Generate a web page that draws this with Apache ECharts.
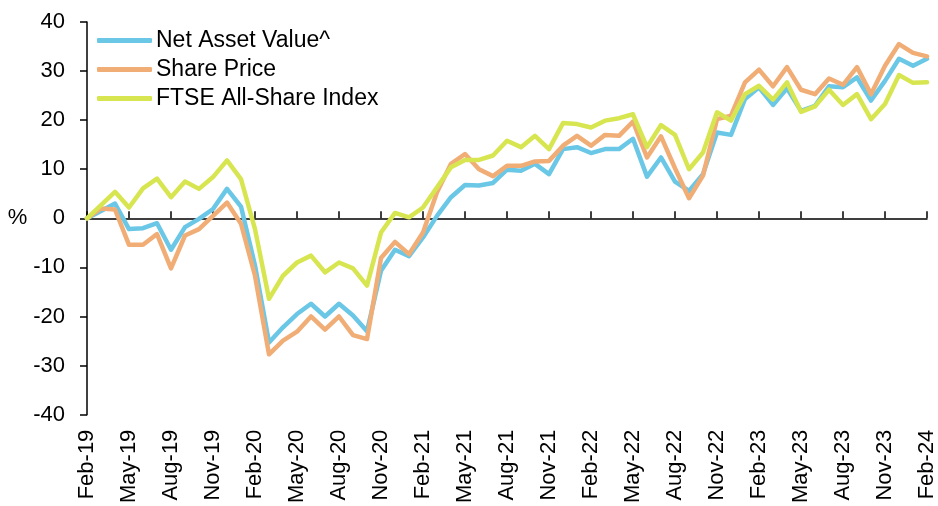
<!DOCTYPE html>
<html>
<head>
<meta charset="utf-8">
<script src="https://cdn.jsdelivr.net/npm/echarts@6/dist/echarts.min.js"></script>
<style>
  html, body { margin: 0; padding: 0; background: #fff; }
  #chart { width: 938px; height: 506px; }
</style>
</head>
<body>
<div id="chart"></div>
<script>
"use strict";

// month labels, Feb-19 .. Feb-24
var months = [
  'Feb-19','Mar-19','Apr-19','May-19','Jun-19','Jul-19','Aug-19','Sep-19','Oct-19','Nov-19','Dec-19','Jan-20',
  'Feb-20','Mar-20','Apr-20','May-20','Jun-20','Jul-20','Aug-20','Sep-20','Oct-20','Nov-20','Dec-20','Jan-21',
  'Feb-21','Mar-21','Apr-21','May-21','Jun-21','Jul-21','Aug-21','Sep-21','Oct-21','Nov-21','Dec-21','Jan-22',
  'Feb-22','Mar-22','Apr-22','May-22','Jun-22','Jul-22','Aug-22','Sep-22','Oct-22','Nov-22','Dec-22','Jan-23',
  'Feb-23','Mar-23','Apr-23','May-23','Jun-23','Jul-23','Aug-23','Sep-23','Oct-23','Nov-23','Dec-23','Jan-24',
  'Feb-24'
];

// % change since Feb-19
var navData = [
  0, 1.5, 3.0, -2.2, -2.0, -1.0, -6.4, -1.8, -0.1, 1.9, 6.0, 2.4,
  -9.6, -25.3, -22.2, -19.5, -17.4, -20.0, -17.4, -19.8, -23.0, -10.7, -6.4, -7.7,
  -3.9, 0.5, 4.3, 6.8, 6.7, 7.2, 9.9, 9.7, 11.1, 9.0, 14.1, 14.5,
  13.3, 14.1, 14.1, 16.2, 8.5, 12.4, 7.5, 5.6, 9.0, 17.5, 17.0, 24.3,
  26.7, 23.1, 26.5, 21.9, 22.9, 26.9, 26.7, 28.7, 24.0, 28.0, 32.5, 31.1,
  32.5
];

var shareData = [
  0, 2.0, 1.8, -5.4, -5.4, -3.2, -10.2, -3.5, -2.2, 0.5, 3.2, -1.1,
  -11.7, -27.7, -24.9, -23.1, -20.0, -22.7, -20.0, -23.8, -24.6, -8.1, -4.8, -7.3,
  -2.9, 5.3, 11.1, 13.1, 10.0, 8.6, 10.7, 10.7, 11.6, 11.7, 14.8, 16.8,
  14.8, 17.0, 16.8, 19.7, 12.4, 16.7, 10.2, 4.1, 8.7, 20.2, 20.9, 27.7,
  30.3, 26.9, 30.8, 26.2, 25.3, 28.5, 27.2, 30.8, 25.3, 31.1, 35.5, 33.7,
  33.0
];

var ftseData = [
  0, 2.7, 5.4, 2.2, 6.1, 8.1, 4.3, 7.5, 6.0, 8.4, 11.8, 8.0,
  -2.2, -16.4, -11.7, -9.0, -7.6, -11.0, -9.0, -10.2, -13.7, -2.9, 1.1, 0.2,
  2.2, 6.3, 10.4, 11.9, 11.9, 12.8, 15.8, 14.5, 16.8, 14.1, 19.4, 19.2,
  18.5, 19.9, 20.4, 21.2, 14.5, 19.0, 17.0, 10.0, 13.4, 21.6, 19.9, 25.3,
  27.0, 24.2, 27.7, 21.7, 22.8, 26.2, 23.1, 25.3, 20.2, 23.3, 29.2, 27.6,
  27.7
];

var seriesNames = ['Net Asset Value^', 'Share Price', 'FTSE All-Share Index'];
var seriesColors = ['#6BC7E6', '#F1AD76', '#D7E650'];

var myChart = echarts.init(document.getElementById('chart'));

function makeLine(name, values, color) {
  return {
    name: name,
    type: 'line',
    data: values,
    symbol: 'none',
    lineStyle: { color: color, width: 4.5, cap: 'round', join: 'round' },
    itemStyle: { color: color },
    animation: false
  };
}

var fontFam = 'Liberation Sans, Arial, sans-serif';

var option = {
  backgroundColor: '#fff',
  grid: { left: 87, right: 6, top: 22, bottom: 90 },
  legend: {
    data: seriesNames,
    orient: 'vertical',
    left: 92,
    top: 24,
    itemWidth: 55,
    itemHeight: 5,
    itemGap: 6,
    icon: 'roundRect',
    textStyle: { fontSize: 23, color: '#000', fontFamily: fontFam, padding: [0, 0, 0, -1] }
  },
  xAxis: [
    {
      type: 'category',
      data: months,
      boundaryGap: false,
      position: 'bottom',
      axisLine: { show: false, onZero: false },
      axisTick: { show: false },
      axisLabel: {
        interval: 2,
        rotate: 90,
        margin: 15,
        fontSize: 22,
        color: '#000',
        fontFamily: fontFam
      },
      splitLine: { show: false }
    },
    {
      type: 'category',
      data: months,
      boundaryGap: false,
      axisLine: { show: true, onZero: true, lineStyle: { color: '#000', width: 1.5 } },
      axisTick: { show: true, interval: 2, inside: false, length: 7, lineStyle: { color: '#000', width: 1.5 } },
      axisLabel: { show: false },
      splitLine: { show: false }
    }
  ],
  yAxis: {
    type: 'value',
    min: -40,
    max: 40,
    interval: 10,
    name: '%',
    nameLocation: 'middle',
    nameRotate: 0,
    nameGap: 58,
    nameTextStyle: { fontSize: 22, color: '#000', fontFamily: fontFam },
    axisLine: { show: true, lineStyle: { color: '#000', width: 1.5 } },
    axisTick: { show: true, length: 7, lineStyle: { color: '#000', width: 1.5 } },
    axisLabel: { margin: 22, fontSize: 22, color: '#000', fontFamily: fontFam },
    splitLine: { show: false }
  },
  series: [
    makeLine(seriesNames[0], navData, seriesColors[0]),
    makeLine(seriesNames[1], shareData, seriesColors[1]),
    makeLine(seriesNames[2], ftseData, seriesColors[2])
  ]
};

myChart.setOption(option);
</script>
</body>
</html>
